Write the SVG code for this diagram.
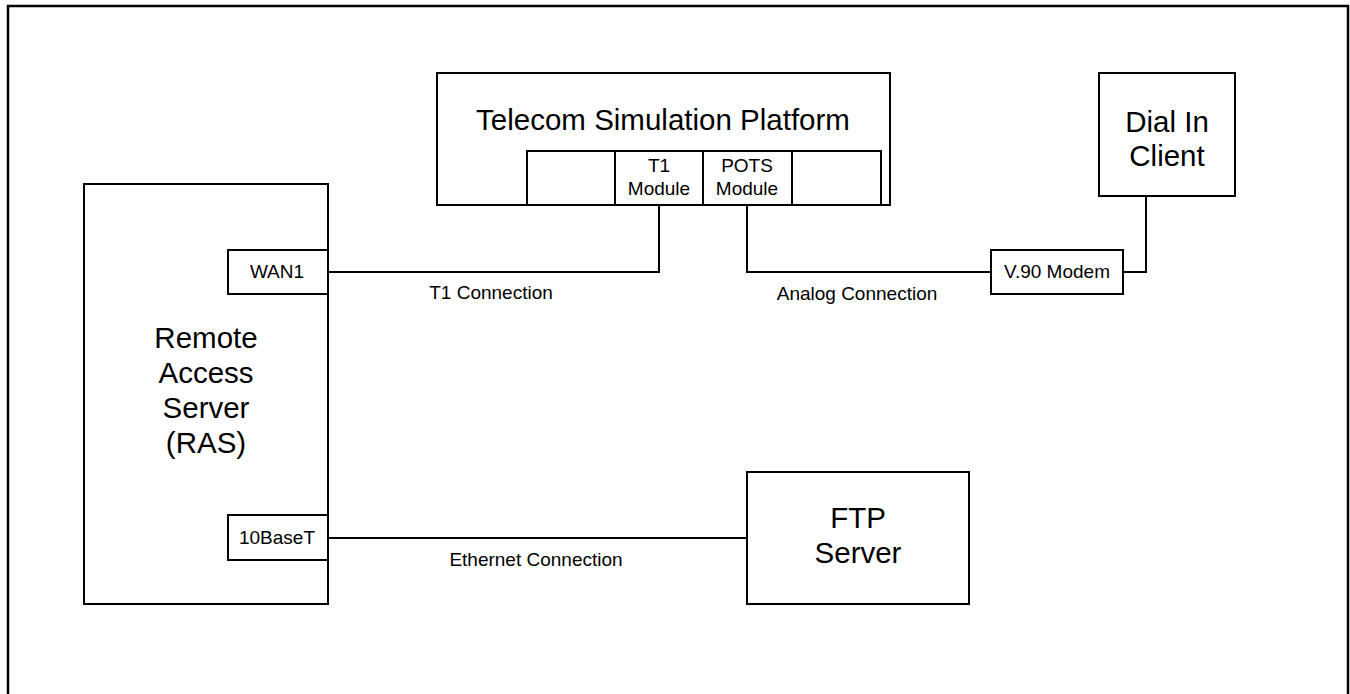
<svg xmlns="http://www.w3.org/2000/svg" width="1350" height="694" viewBox="0 0 1350 694">
<style>
.b{fill:#fff;stroke:#000;stroke-width:2}
.c{fill:none;stroke:#000;stroke-width:2}
text{font-family:"Liberation Sans",Arial,sans-serif;fill:#000;text-anchor:middle}
.big{font-size:29.5px}
.sm{font-size:19px}
</style>
<rect x="0" y="0" width="1350" height="694" fill="#fff"/>
<rect id="frame" x="8" y="6" width="1340" height="700" fill="none" stroke="#000" stroke-width="2.5"/>
<g id="connectors">
<polyline class="c" points="328,272 659,272 659,205"/>
<polyline class="c" points="747,205 747,272 991,272"/>
<polyline class="c" points="1123,272 1146,272 1146,196"/>
<line class="c" x1="328" y1="538" x2="747" y2="538"/>
<text class="sm" x="491" y="299">T1 Connection</text>
<text class="sm" x="857" y="300">Analog Connection</text>
<text class="sm" x="536" y="566">Ethernet Connection</text>
</g>
<g id="tsp">
<rect class="b" x="437" y="73" width="453" height="132"/>
<text class="big" x="663" y="130">Telecom Simulation Platform</text>
<rect class="b" x="527" y="151" width="354" height="54"/>
<line class="c" x1="615" y1="151" x2="615" y2="205"/>
<line class="c" x1="703" y1="151" x2="703" y2="205"/>
<line class="c" x1="792" y1="151" x2="792" y2="205"/>
<text class="sm" x="659" y="172">T1</text>
<text class="sm" x="659" y="195">Module</text>
<text class="sm" x="747" y="172">POTS</text>
<text class="sm" x="747" y="195">Module</text>
</g>
<g id="dial">
<rect class="b" x="1099" y="73" width="136" height="123"/>
<text class="big" x="1167" y="132">Dial In</text>
<text class="big" x="1167" y="166">Client</text>
</g>
<g id="modem">
<rect class="b" x="991" y="250" width="132" height="44"/>
<text class="sm" x="1057" y="278">V.90 Modem</text>
</g>
<g id="ras">
<rect class="b" x="84" y="184" width="244" height="420"/>
<text class="big" x="206" y="348">Remote</text>
<text class="big" x="206" y="383">Access</text>
<text class="big" x="206" y="418">Server</text>
<text class="big" x="206" y="453">(RAS)</text>
</g>
<g id="wan1">
<rect class="b" x="228" y="250" width="100" height="44"/>
<text class="sm" x="277" y="278">WAN1</text>
</g>
<g id="tenbase">
<rect class="b" x="228" y="515" width="100" height="45"/>
<text class="sm" x="277" y="544">10BaseT</text>
</g>
<g id="ftp">
<rect class="b" x="747" y="472" width="222" height="132"/>
<text class="big" x="858" y="528">FTP</text>
<text class="big" x="858" y="563">Server</text>
</g>
</svg>
